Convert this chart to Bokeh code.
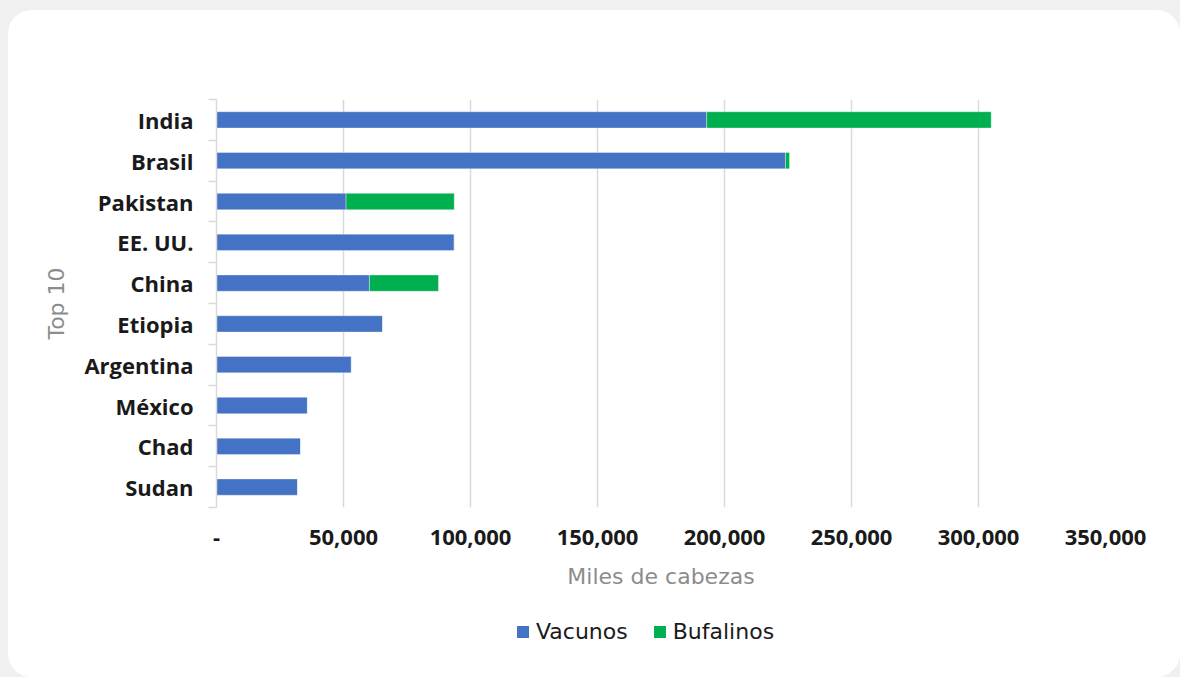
from bokeh.plotting import figure
from bokeh.layouts import column
from bokeh.models import (ColumnDataSource, Range1d, FixedTicker, NumeralTickFormatter,
                          Legend, LegendItem, GlobalInlineStyleSheet)
from bokeh.embed import file_html
from bokeh.resources import INLINE

# ---- data (miles de cabezas) ----
countries = ["India", "Brasil", "Pakistan", "EE. UU.", "China",
             "Etiopia", "Argentina", "México", "Chad", "Sudan"]
vacunos = [193000, 224000, 51000, 93600, 60200, 65400, 53100, 35800, 33100, 31900]
bufalinos = [112000, 1600, 42600, 0, 27200, 0, 0, 0, 0, 0]
x_ticks = [0, 50000, 100000, 150000, 200000, 250000, 300000, 350000]
series = ["Vacunos", "Bufalinos"]

BLUE = "#4472C4"
GREEN = "#00B050"
FONT = "Open Sans"
FONT2 = "DejaVu Sans"

pos = list(range(len(countries)))
left2 = vacunos
right2 = [v + b for v, b in zip(vacunos, bufalinos)]
src = ColumnDataSource(dict(y=pos, v=vacunos, l2=left2, r2=right2))

p = figure(width=1172, height=610, output_backend="svg", toolbar_location=None,
           x_range=Range1d(0, 350000), y_range=Range1d(len(countries) - 0.5, -0.5),
           min_border_left=208, min_border_right=75, min_border_top=89, min_border_bottom=113)
p.outline_line_color = None
p.background_fill_color = "white"
p.border_fill_color = "white"

r1 = p.hbar(y="y", left=0, right="v", height=0.4, source=src,
            fill_color=BLUE, line_color="white", line_alpha=0.35, line_width=1)
r2 = p.hbar(y="y", left="l2", right="r2", height=0.4, source=src,
            fill_color=GREEN, line_color="white", line_alpha=0.35, line_width=1)

# x axis
xa = p.xaxis[0]
xa.ticker = FixedTicker(ticks=x_ticks)
xa.formatter = NumeralTickFormatter(format="0,0")
xa.major_label_overrides = {0: "-"}
xa.axis_line_color = None
xa.major_tick_line_color = None
xa.minor_tick_line_color = None
xa.major_tick_out = 0
xa.major_label_standoff = 22
xa.major_label_text_font = FONT
xa.major_label_text_font_style = "bold"
xa.major_label_text_font_size = "22px"
xa.major_label_text_color = "#1a1a1a"
xa.axis_label = "Miles de cabezas"
xa.axis_label_text_font = FONT2
xa.axis_label_text_font_style = "normal"
xa.axis_label_text_font_size = "22px"
xa.axis_label_text_color = "#8c8c8c"
xa.axis_label_standoff = 16

# y axis
ya = p.yaxis[0]
ya.ticker = FixedTicker(ticks=pos, minor_ticks=[i - 0.5 for i in range(len(countries) + 1)])
ya.major_label_overrides = {i: c for i, c in enumerate(countries)}
ya.axis_line_color = "#d9d9d9"
ya.axis_line_width = 1.5
ya.major_tick_line_color = None
ya.major_tick_out = 0
ya.major_tick_in = 0
ya.minor_tick_line_color = "#d9d9d9"
ya.minor_tick_line_width = 1.5
ya.minor_tick_out = 8
ya.minor_tick_in = 0
ya.major_label_standoff = 15
ya.major_label_text_font = FONT
ya.major_label_text_font_style = "bold"
ya.major_label_text_font_size = "22px"
ya.major_label_text_color = "#1a1a1a"
ya.axis_label = "Top 10"
ya.axis_label_text_font = FONT2
ya.axis_label_text_font_style = "normal"
ya.axis_label_text_font_size = "22px"
ya.axis_label_text_color = "#8c8c8c"
ya.axis_label_standoff = 12

p.xgrid.ticker = FixedTicker(ticks=x_ticks)
p.xgrid.grid_line_color = "#d9d9d9"
p.xgrid.grid_line_width = 1.5
p.ygrid.grid_line_color = None

# legend strip below the chart (its bars lie outside this strip's ranges, only the key shows)
p2 = figure(width=1172, height=57, output_backend="svg", toolbar_location=None,
            x_range=Range1d(-2e6, -1e6), y_range=Range1d(100, 101),
            min_border_left=0, min_border_right=0, min_border_top=0, min_border_bottom=0)
p2.axis.visible = False
p2.grid.visible = False
p2.outline_line_color = None
p2.background_fill_color = "white"
p2.border_fill_color = "white"
g1 = p2.hbar(y="y", left=0, right="v", height=0.4, source=src,
             fill_color=BLUE, line_color=None)
g2 = p2.hbar(y="y", left="l2", right="r2", height=0.4, source=src,
             fill_color=GREEN, line_color=None)
legend = Legend(items=[LegendItem(label=series[0], renderers=[g1]),
                       LegendItem(label=series[1], renderers=[g2])],
                orientation="horizontal", location=(299, 33),
                label_text_font=FONT2, label_text_font_size="22px",
                label_text_color="#1a1a1a",
                glyph_width=15, glyph_height=15, label_standoff=6, spacing=24,
                border_line_color=None, background_fill_alpha=0,
                margin=0, padding=0)
p2.add_layout(legend, "center")

layout = column(p, p2, spacing=0)
layout.styles = {"border-radius": "24px", "overflow": "hidden", "background-color": "white"}
layout.stylesheets = [GlobalInlineStyleSheet(
    css="html,body{background-color:#f0f0f0;} body{margin:10px 0 0 8px !important; overflow:hidden;}")]

open("out.html", "w").write(file_html(layout, INLINE))
